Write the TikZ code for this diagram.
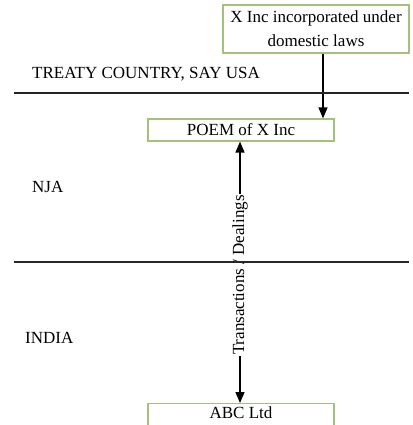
\documentclass[tikz,border=0pt]{standalone}
\usepackage{fontspec}
\setmainfont{Liberation Serif}
\usetikzlibrary{arrows.meta}
\definecolor{boxgreen}{HTML}{A3C17A}
\tikzset{
  every node/.style={font=\fontsize{17}{24}\selectfont},
  entity/.style={draw=boxgreen, line width=1.2pt, fill=white, minimum width=186pt, align=center, inner ysep=1pt},
  region/.style={anchor=west, inner sep=0pt},
  border/.style={line width=1.3pt, black!85},
  flow/.style={line width=1.3pt, -{Triangle[length=11pt,width=9pt]}},
  twoway/.style={line width=1.3pt, {Triangle[length=11pt,width=9pt]}-{Triangle[length=11pt,width=9pt]}}
}
\begin{document}
\begin{tikzpicture}[x=1pt, y=-1pt]
  \useasboundingbox (0,0) rectangle (412,425);
  \clip (0,0) rectangle (412,425);

  % entities
  \node[entity, minimum height=48pt] (xinc) at (316,29) {X Inc incorporated under\\domestic laws};
  \node[entity, minimum height=22pt] (poem) at (241,130) {POEM of X Inc};
  \node[entity, anchor=north, text height=12pt, text depth=18pt, inner ysep=3pt] (abc) at (241,403) {ABC Ltd};

  % incorporation arrow
  \coordinate (a1) at (323,0);
  \draw[flow] (xinc.south -| a1) -- (poem.north -| a1);

  % dealings between POEM and ABC
  \coordinate (a2) at (240,0);
  \draw[twoway] (poem.south -| a2) -- (abc.north -| a2);
  \node[rotate=90, fill=white, inner xsep=1pt, inner ysep=0pt] (deal) at (240,275) {Transactions / Dealings};

  % jurisdiction borders
  \coordinate (b1l) at (14,93);
  \coordinate (b1r) at (409,93);
  \coordinate (b2l) at (14,262);
  \coordinate (b2r) at (409,262);
  \draw[border] (b1l) -- (b1r);
  \draw[border] (b2l) -- (b2r);

  % region labels
  \node[region] (usa) at (32,74) {TREATY COUNTRY, SAY USA};
  \node[region] (nja) at (32,187) {NJA};
  \node[region] (india) at (25,338) {INDIA};
\end{tikzpicture}
\end{document}
